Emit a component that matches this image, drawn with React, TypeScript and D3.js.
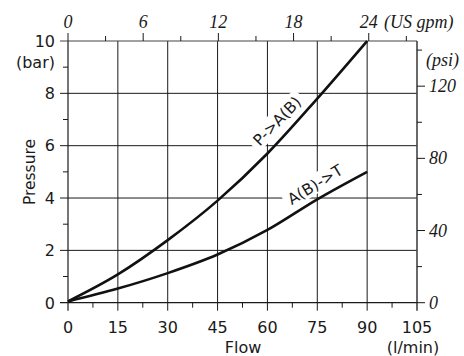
import React from "react";
import * as d3 from "d3";

const flowTicks = [0, 15, 30, 45, 60, 75, 90, 105];
const flowMinor = [7.5, 22.5, 37.5, 52.5, 67.5, 82.5, 97.5];
const barTicks = [0, 2, 4, 6, 8, 10];
const barMinor = [1, 3, 5, 7, 9];
const gpmTicks = [0, 6, 12, 18, 24];
const gpmMinor = [3, 9, 15, 21, 27];
const psiTicks = [0, 40, 80, 120];
const psiMinor = [20, 60, 100, 140];

const flowPoints = [0, 15, 30, 45, 60, 75, 90];
const pToA = [0.05, 1.08, 2.39, 3.9, 5.7, 7.8, 10.0];
const aToT = [0.05, 0.54, 1.13, 1.84, 2.78, 3.95, 5.0];

const LPM_PER_GPM = 3.77;
const BAR_PER_PSI = 0.0689476;

export default function App() {
  const x = d3.scaleLinear().domain([0, 105]).range([68, 417]);
  const y = d3.scaleLinear().domain([0, 10]).range([302.7, 41]);
  const x0 = x(0), x1 = x(105), y0 = y(0), y1 = y(10);

  const line = d3
    .line<[number, number]>()
    .x((d) => x(d[0]))
    .y((d) => y(d[1]))
    .curve(d3.curveMonotoneX);

  const sans = "'DejaVu Sans', Verdana, sans-serif";
  const serif = "'Liberation Serif', 'Times New Roman', serif";
  const ink = "#1a1a1a";

  const pData = flowPoints.map((f, i) => [f, pToA[i]] as [number, number]);
  const aData = flowPoints.map((f, i) => [f, aToT[i]] as [number, number]);

  return (
    <svg
      width={464}
      height={356}
      style={{ position: "absolute", left: 0, top: 0, background: "#fff" }}
    >
      <rect x={0} y={0} width={464} height={356} fill="#fff" />
      {/* grid */}
      {flowTicks
        .filter((f) => f > 0 && f < 105)
        .map((f) => (
          <line key={"gx" + f} x1={x(f)} x2={x(f)} y1={y1} y2={y0 + 8} stroke={ink} strokeWidth={1} />
        ))}
      {barTicks
        .filter((b) => b > 0 && b < 10)
        .map((b) => (
          <line key={"gy" + b} x1={x0 - 8} x2={x1} y1={y(b)} y2={y(b)} stroke={ink} strokeWidth={1} />
        ))}
      {/* axes frame */}
      <line x1={x0} x2={x0} y1={y1} y2={y0 + 8} stroke={ink} strokeWidth={1.2} />
      <line x1={x1} x2={x1} y1={y1} y2={y0 + 8} stroke="#444" strokeWidth={1.6} />
      <line x1={x0 - 8} x2={x1} y1={y0} y2={y0} stroke={ink} strokeWidth={1.2} />
      <line x1={x0 - 8} x2={x1} y1={y1} y2={y1} stroke="#444" strokeWidth={1.2} />
      {/* bottom minor ticks */}
      {flowMinor.map((f) => (
        <line key={"bm" + f} x1={x(f)} x2={x(f)} y1={y0} y2={y0 + 5} stroke={ink} strokeWidth={1} />
      ))}
      {/* left minor ticks */}
      {barMinor.map((b) => (
        <line key={"lm" + b} x1={x0 - 5} x2={x0} y1={y(b)} y2={y(b)} stroke={ink} strokeWidth={1} />
      ))}
      {/* top gpm ticks */}
      {gpmTicks.map((g) => (
        <line key={"tg" + g} x1={x(g * LPM_PER_GPM)} x2={x(g * LPM_PER_GPM)} y1={y1} y2={y1 - 8} stroke={ink} strokeWidth={1} />
      ))}
      {gpmMinor.map((g) => (
        <line key={"tgm" + g} x1={x(g * LPM_PER_GPM)} x2={x(g * LPM_PER_GPM)} y1={y1} y2={y1 - 5} stroke={ink} strokeWidth={1} />
      ))}
      {/* right psi ticks */}
      {psiTicks.map((p) => (
        <line key={"rp" + p} x1={x1} x2={x1 + 8} y1={y(p * BAR_PER_PSI)} y2={y(p * BAR_PER_PSI)} stroke={ink} strokeWidth={1} />
      ))}
      {psiMinor.map((p) => (
        <line key={"rpm" + p} x1={x1} x2={x1 + 5} y1={y(p * BAR_PER_PSI)} y2={y(p * BAR_PER_PSI)} stroke={ink} strokeWidth={1} />
      ))}

      {/* curves */}
      <path d={line(pData) || ""} fill="none" stroke="#111" strokeWidth={2.6} />
      <path d={line(aData) || ""} fill="none" stroke="#111" strokeWidth={2.6} />

      {/* curve labels */}
      <g transform="translate(277,121) rotate(-46)">
        <rect x={-35} y={-10} width={70} height={19} fill="#fff" />
        <text x={0} y={5.5} textAnchor="middle" fontFamily={sans} fontSize={15.5} fill={ink}>
          P-&gt;A(B)
        </text>
      </g>
      <g transform="translate(315,184.5) rotate(-31.5)">
        <rect x={-35} y={-10} width={70} height={19} fill="#fff" />
        <text x={0} y={5.5} textAnchor="middle" fontFamily={sans} fontSize={15.5} fill={ink}>
          A(B)-&gt;T
        </text>
      </g>

      {/* bottom labels */}
      {flowTicks.map((f) => (
        <text key={"bl" + f} x={x(f)} y={333} textAnchor="middle" fontFamily={sans} fontSize={16} fill={ink}>
          {f}
        </text>
      ))}
      <text x={243} y={353} textAnchor="middle" fontFamily={sans} fontSize={16} fill={ink}>
        Flow
      </text>
      <text x={413} y={353} textAnchor="middle" fontFamily={sans} fontSize={16} fill={ink}>
        (l/min)
      </text>

      {/* left labels */}
      {barTicks.map((b) => (
        <text key={"ll" + b} x={55} y={y(b) + 5.8} textAnchor="end" fontFamily={sans} fontSize={16} fill={ink}>
          {b}
        </text>
      ))}
      <text x={55} y={67.5} textAnchor="end" fontFamily={sans} fontSize={16} fill={ink}>
        (bar)
      </text>
      <text
        transform="translate(35,172) rotate(-90)"
        textAnchor="middle"
        fontFamily={sans}
        fontSize={15.5}
        fill={ink}
      >
        Pressure
      </text>

      {/* top labels */}
      {gpmTicks.map((g) => (
        <text key={"tl" + g} x={x(g * LPM_PER_GPM)} y={28} textAnchor="middle" fontFamily={serif} fontStyle="italic" fontSize={18} fill={ink}>
          {g}
        </text>
      ))}
      <text x={384} y={28} fontFamily={serif} fontStyle="italic" fontSize={18} fill={ink}>
        (US gpm)
      </text>

      {/* right labels */}
      {psiTicks.map((p) => (
        <text key={"rl" + p} x={429} y={y(p * BAR_PER_PSI) + 6} fontFamily={serif} fontStyle="italic" fontSize={18} fill={ink}>
          {p}
        </text>
      ))}
      <text x={426} y={66} fontFamily={serif} fontStyle="italic" fontSize={18} fill={ink}>
        (psi)
      </text>
    </svg>
  );
}
